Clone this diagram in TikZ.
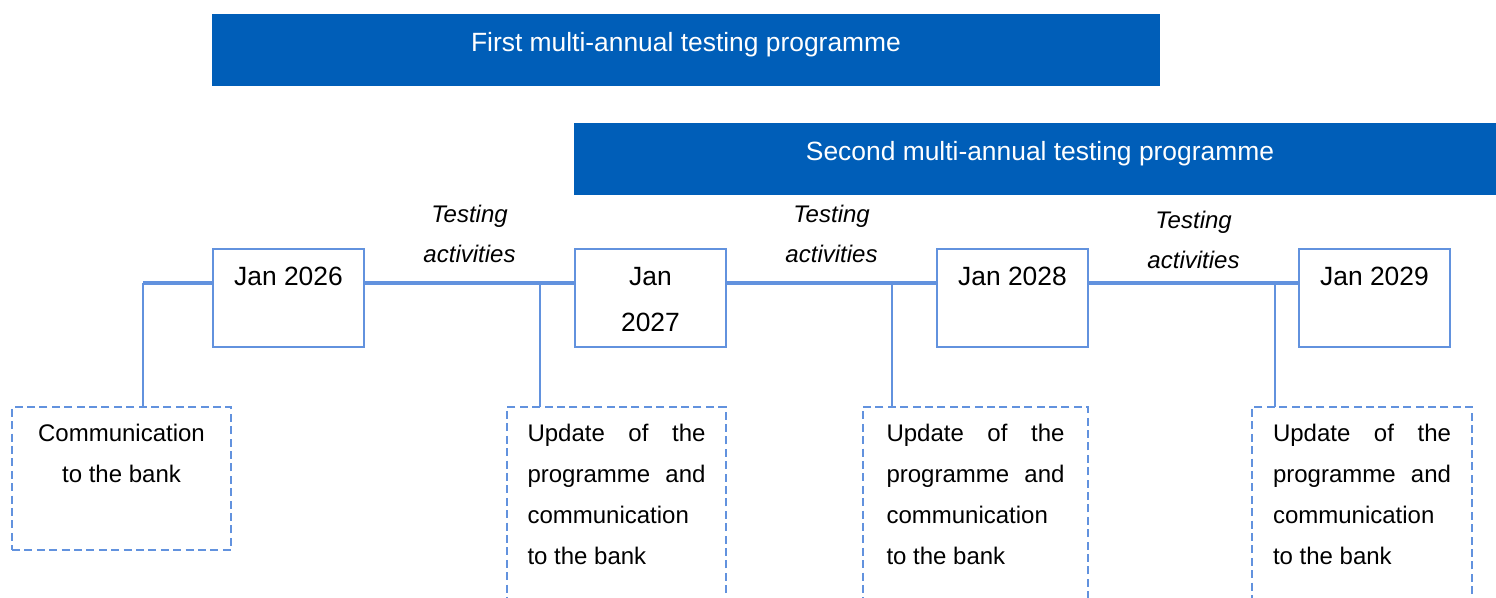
\documentclass[tikz,border=0pt]{standalone}
\usepackage{fontspec}
\setmainfont{Liberation Sans}
\usetikzlibrary{positioning}
\definecolor{progblue}{RGB}{0,94,184}
\definecolor{lineblue}{RGB}{98,146,222}

% text set at the top of a fixed-height box
\newcommand{\datetext}[1]{\parbox[c][49pt][t]{75.5pt}{\centering\vspace*{9.1pt}#1}}
\newcommand{\notetext}[2]{\parbox[c][#1][t]{89pt}{\vspace*{8.6pt}#2}}

\tikzset{
  progbar/.style={fill=progblue, text=white, inner sep=0pt, outer sep=0pt, anchor=north west,
    minimum height=36pt, text height=18.7pt, text depth=17.3pt},
  datebox/.style={draw=lineblue, line width=1.35pt, inner sep=0pt, outer sep=0pt, anchor=north west,
    font=\fontsize{13.2}{23}\selectfont},
  notebox/.style={draw=lineblue, line width=1.1pt, dash pattern=on 4pt off 2.2pt,
    inner sep=0pt, outer sep=0pt, anchor=north west, minimum width=109.5pt,
    font=\fontsize{12}{20.5}\selectfont},
  timeline/.style={draw=lineblue, line width=2.1pt},
  link/.style={draw=lineblue, line width=0.7pt},
  activity/.style={font=\fontsize{12}{20}\selectfont\itshape, align=center},
}

\begin{document}
\begin{tikzpicture}[x=0.5pt, y=-0.5pt, font=\fontsize{13.2}{23}\selectfont]
  \useasboundingbox (0,0) rectangle (1496,598);

  % programme bars
  \node[progbar, minimum width=474pt] (first) at (212,14) {First multi-annual testing programme};
  \node[progbar, minimum width=466pt] (second) at (574,123) {Second multi-annual testing programme};

  % dates
  \node[datebox] (d26) at (213,249) {\datetext{Jan 2026}};
  \node[datebox] (d27) at (575,249) {\datetext{Jan\\2027}};
  \node[datebox] (d28) at (937,249) {\datetext{Jan 2028}};
  \node[datebox] (d29) at (1299,249) {\datetext{Jan 2029}};

  % timeline
  \coordinate (c1) at (143,283);
  \coordinate (c2) at (540,283);
  \coordinate (c3) at (892,283);
  \coordinate (c4) at (1275,283);
  \draw[timeline] (c1) -- (c1 -| d26.west);
  \draw[timeline] (d26.east |- c1) -- node[activity, yshift=24.5pt] {Testing\\activities} (d27.west |- c1);
  \draw[timeline] (d27.east |- c1) -- node[activity, yshift=24.5pt] {Testing\\activities} (d28.west |- c1);
  \draw[timeline] (d28.east |- c1) -- node[activity, yshift=21.5pt] {Testing\\activities} (d29.west |- c1);

  % notes
  \node[notebox] (n1) at (12,407) {\parbox[c][71.5pt][t]{89pt}{\centering\vspace*{8.6pt}Communication\\to the bank}};
  \node[notebox] (n2) at (507,407) {\notetext{120pt}{\makebox[89pt][s]{Update of the}\\\makebox[89pt][s]{programme and}\\communication\\to the bank}};
  \node[notebox, minimum width=112.5pt] (n3) at (863,407) {\notetext{120pt}{\makebox[89pt][s]{Update of the}\\\makebox[89pt][s]{programme and}\\communication\\to the bank}};
  \node[notebox, minimum width=110pt] (n4) at (1252,407) {\notetext{120pt}{\makebox[89pt][s]{Update of the}\\\makebox[89pt][s]{programme and}\\communication\\to the bank}};

  \draw[link] (c1) -- (c1 |- n1.north);
  \draw[link] (c2) -- (c2 |- n2.north);
  \draw[link] (c3) -- (c3 |- n3.north);
  \draw[link] (c4) -- (c4 |- n4.north);
\end{tikzpicture}
\end{document}
